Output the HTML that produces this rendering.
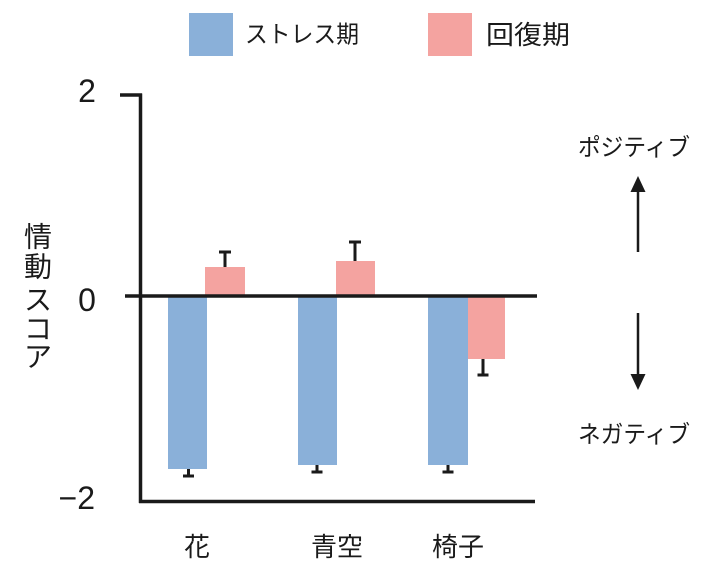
<!DOCTYPE html>
<html>
<head>
<meta charset="utf-8">
<style>
html,body{margin:0;padding:0;background:#fff;}
svg{display:block;}
text{font-family:"Liberation Sans","Noto Sans CJK JP",sans-serif;fill:#1a1a1a;}
</style>
</head>
<body>
<svg width="720" height="580" viewBox="0 0 720 580" xmlns="http://www.w3.org/2000/svg">
  <rect width="720" height="580" fill="#fff"/>
  <!-- Legend -->
  <rect x="189" y="13" width="44" height="43" fill="#8ab0d9"/>
  <text x="245" y="35" font-size="24" dominant-baseline="central" textLength="114" lengthAdjust="spacingAndGlyphs">ストレス期</text>
  <rect x="428" y="13" width="44" height="43" fill="#f4a3a0"/>
  <text x="486" y="35" font-size="26" dominant-baseline="central" textLength="84" lengthAdjust="spacingAndGlyphs">回復期</text>

  <!-- Y tick labels -->
  <text x="87" y="91" font-size="32" text-anchor="middle" dominant-baseline="central">2</text>
  <text x="87" y="300" font-size="32" text-anchor="middle" dominant-baseline="central">0</text>
  <text x="95" y="498" font-size="32" text-anchor="end" dominant-baseline="central">−2</text>

  <!-- Y axis title -->
  <g font-size="28" text-anchor="middle">
    <text x="38" y="237" dominant-baseline="central">情</text>
    <text x="38" y="267" dominant-baseline="central">動</text>
    <text x="38" y="300" dominant-baseline="central">ス</text>
    <text x="38" y="329" dominant-baseline="central">コ</text>
    <text x="38" y="357" dominant-baseline="central">ア</text>
  </g>

  <!-- Bars -->
  <rect x="168" y="296" width="39" height="173" fill="#8ab0d9"/>
  <rect x="205" y="267" width="40" height="29" fill="#f4a3a0"/>
  <rect x="298" y="296" width="39" height="169" fill="#8ab0d9"/>
  <rect x="336" y="261" width="39" height="35" fill="#f4a3a0"/>
  <rect x="428" y="296" width="40" height="169" fill="#8ab0d9"/>
  <rect x="468" y="296" width="37" height="63" fill="#f4a3a0"/>

  <!-- Error bars -->
  <g stroke="#1a1a1a" stroke-width="3" fill="none">
    <line x1="188.5" y1="469" x2="188.5" y2="476"/>
    <line x1="183" y1="476" x2="194" y2="476"/>
    <line x1="225" y1="267" x2="225" y2="252"/>
    <line x1="219" y1="252" x2="231" y2="252"/>
    <line x1="317" y1="465" x2="317" y2="472"/>
    <line x1="311.5" y1="472" x2="322.5" y2="472"/>
    <line x1="355" y1="261" x2="355" y2="242"/>
    <line x1="349" y1="242" x2="361" y2="242"/>
    <line x1="448" y1="465" x2="448" y2="472"/>
    <line x1="442.5" y1="472" x2="453.5" y2="472"/>
    <line x1="483" y1="359" x2="483" y2="375"/>
    <line x1="477.5" y1="375" x2="488.5" y2="375"/>
  </g>

  <!-- Axes -->
  <g stroke="#1a1a1a" fill="none">
    <line x1="140.5" y1="93.5" x2="140.5" y2="503" stroke-width="3.5"/>
    <line x1="120" y1="95" x2="142" y2="95" stroke-width="3.5"/>
    <line x1="125" y1="296" x2="537" y2="296" stroke-width="3.5"/>
    <line x1="139" y1="501.5" x2="535" y2="501.5" stroke-width="3.5"/>
  </g>

  <!-- Category labels -->
  <g font-size="26" text-anchor="middle">
    <text x="197" y="547" dominant-baseline="central">花</text>
    <text x="337" y="547" dominant-baseline="central">青空</text>
    <text x="458" y="547" dominant-baseline="central">椅子</text>
  </g>

  <!-- Right side arrows -->
  <text x="634" y="148" font-size="24" text-anchor="middle" dominant-baseline="central" textLength="112" lengthAdjust="spacingAndGlyphs">ポジティブ</text>
  <line x1="638" y1="190" x2="638" y2="252" stroke="#1a1a1a" stroke-width="2.5"/>
  <polygon points="638,176 630.5,192 645.5,192" fill="#1a1a1a"/>
  <line x1="638" y1="313" x2="638" y2="376" stroke="#1a1a1a" stroke-width="2.5"/>
  <polygon points="630.5,374 645.5,374 638,390" fill="#1a1a1a"/>
  <text x="634" y="435" font-size="24" text-anchor="middle" dominant-baseline="central" textLength="112" lengthAdjust="spacingAndGlyphs">ネガティブ</text>
</svg>
</body>
</html>
